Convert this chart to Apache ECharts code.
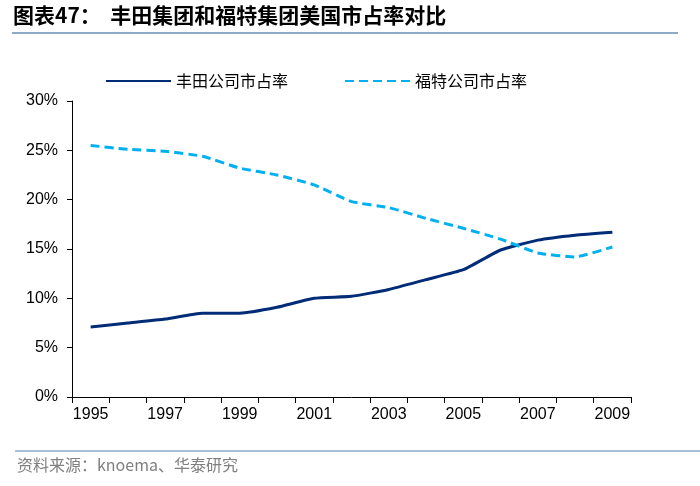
<!DOCTYPE html>
<html><head><meta charset="utf-8">
<script src="https://cdn.jsdelivr.net/npm/echarts@6/dist/echarts.min.js"></script>
<style>html,body{margin:0;padding:0;background:#fff}#c{width:700px;height:486px}</style>
</head><body><div id="c"></div>
<script>
const years = ['1995','1996','1997','1998','1999','2000','2001','2002','2003','2004','2005','2006','2007','2008','2009'];
const toyota = [7.1, 7.5, 7.9, 8.5, 8.5, 9.1, 10.0, 10.2, 10.9, 11.9, 12.9, 14.9, 15.9, 16.4, 16.7];
const ford = [25.5, 25.1, 24.9, 24.4, 23.2, 22.5, 21.5, 19.8, 19.2, 18.1, 17.1, 16.0, 14.6, 14.2, 15.2];
const seriesNames = ['丰田公司市占率', '福特公司市占率'];
const titleText = '图表47：  丰田集团和福特集团美国市占率对比';
const sourceText = '资料来源：knoema、华泰研究';

const chart = echarts.init(document.getElementById('c'), null, {renderer: 'canvas'});
const font = '"Noto Sans CJK SC", "Liberation Sans", sans-serif';
chart.setOption({
  animation: false,
  textStyle: {fontFamily: font},
  grid: {left: 72, right: 69, top: 101, bottom: 89, containLabel: false},
  legend: {
    top: 68, left: 100, itemWidth: 65, itemHeight: 12, itemGap: 56,
    itemStyle: {opacity: 0},
    textStyle: {fontSize: 16, color: '#000', fontFamily: font},
    data: seriesNames
  },
  xAxis: {
    type: 'category', data: years, boundaryGap: true,
    axisLine: {lineStyle: {color: '#000', width: 1}},
    axisTick: {show: true, alignWithLabel: false, interval: 0, length: 6, lineStyle: {color: '#000'}},
    axisLabel: {interval: 1, fontSize: 16, color: '#000', margin: 10, fontFamily: '"Liberation Sans", Arial, sans-serif'}
  },
  yAxis: {
    type: 'value', min: 0, max: 30, interval: 5,
    axisLine: {show: true, lineStyle: {color: '#000', width: 1}},
    axisTick: {show: true, length: 5, lineStyle: {color: '#000'}},
    splitLine: {show: false},
    axisLabel: {formatter: '{value}%', fontSize: 16, color: '#000', margin: 14, fontFamily: '"Liberation Sans", Arial, sans-serif'}
  },
  series: [
    {name: seriesNames[0], type: 'line', data: toyota, symbol: 'none', smooth: 0.15,
     lineStyle: {color: '#002c77', width: 3}, itemStyle: {color: '#002c77'}},
    {name: seriesNames[1], type: 'line', data: ford, symbol: 'none', smooth: 0.15,
     lineStyle: {color: '#00b0f0', width: 3, type: [9, 5]}, itemStyle: {color: '#00b0f0'}}
  ],
  graphic: [
    {type: 'text', left: 13, top: 5, style: {text: titleText, fill: '#000', font: 'bold 21px ' + font}},
    {type: 'line', shape: {x1: 12, y1: 33, x2: 678, y2: 33}, style: {stroke: '#8eaacb', lineWidth: 2}},
    {type: 'line', shape: {x1: 15, y1: 451, x2: 700, y2: 451}, style: {stroke: '#8eaacb', lineWidth: 1.5}},
    {type: 'text', left: 17, top: 457, style: {text: sourceText, fill: '#7f7f7f', font: '16px ' + font}}
  ]
});
</script></body></html>
